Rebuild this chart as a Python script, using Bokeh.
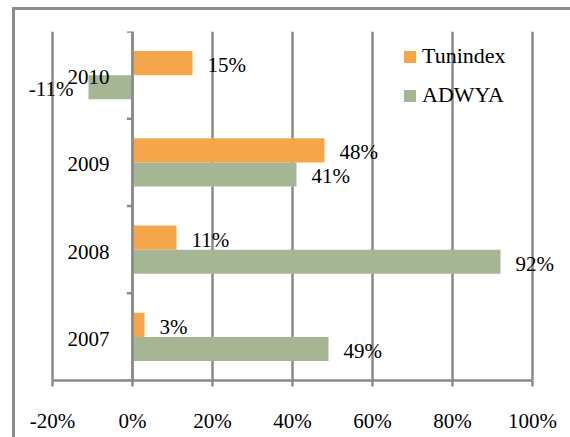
from bokeh.plotting import figure
from bokeh.models import (ColumnDataSource, FactorRange, Range1d, Span, SingleIntervalTicker,
                          PrintfTickFormatter, Legend, LegendItem, LabelSet)
from bokeh.transform import dodge
from bokeh.embed import file_html
from bokeh.resources import INLINE

years = ["2007", "2008", "2009", "2010"]
tunindex = [3, 11, 48, 15]
adwya = [49, 92, 41, -11]
x_ticks_interval = 20
axis_min, axis_max = -20, 100
view_min, view_max = -26, 106

FONT = "Liberation Serif"
ORANGE = "#F5A54A"
GREEN = "#A6B593"
GRAY = "#8A8A8A"

p = figure(width=570, height=437, output_backend="svg", toolbar_location=None,
           x_range=Range1d(view_min, view_max), y_range=FactorRange(factors=years, range_padding=0),
           min_border_left=28, min_border_right=14, min_border_top=31, min_border_bottom=57)
p.border_fill_color = None
p.styles = {"background": "linear-gradient(#8C8C8C,#8C8C8C) 12px 7px / 3px 100% no-repeat, "
                          "linear-gradient(#8C8C8C,#8C8C8C) 12px 7px / 100% 3px no-repeat, white"}
p.outline_line_color = None
p.background_fill_color = "white"

# grid
p.ygrid.visible = False
p.xgrid.grid_line_color = GRAY
p.xgrid.grid_line_width = 2.5
p.xgrid.ticker = SingleIntervalTicker(interval=x_ticks_interval)

# x axis
p.xaxis.ticker = SingleIntervalTicker(interval=x_ticks_interval)
p.xaxis.bounds = (axis_min, axis_max)
p.xaxis.formatter = PrintfTickFormatter(format="%d%%")
p.xaxis.axis_line_color = GRAY
p.xaxis.axis_line_width = 2.5
p.xaxis.major_tick_line_color = GRAY
p.xaxis.major_tick_line_width = 2.5
p.xaxis.major_tick_out = 6
p.xaxis.major_tick_in = 0
p.xaxis.minor_tick_line_color = None
p.xaxis.major_label_standoff = 22
p.xaxis.major_label_text_font = FONT
p.xaxis.major_label_text_font_size = "21px"
p.xaxis.major_label_text_color = "black"
p.yaxis.visible = False

src = ColumnDataSource(dict(
    year=years, tunindex=tunindex, adwya=adwya,
    t_lab=[f"{v}%" for v in tunindex], a_lab=[f"{v}%" for v in adwya],
    t_off=[15 if v >= 0 else -15 for v in tunindex], a_off=[15 if v >= 0 else -15 for v in adwya],
    t_al=["left" if v >= 0 else "right" for v in tunindex],
    a_al=["left" if v >= 0 else "right" for v in adwya],
    zero=[0] * len(years),
))

bh = 0.276
r_t = p.hbar(y=dodge("year", bh / 2, range=p.y_range), left=0, right="tunindex", height=bh,
             source=src, fill_color=ORANGE, line_color=None)
r_a = p.hbar(y=dodge("year", -bh / 2, range=p.y_range), left=0, right="adwya", height=bh,
             source=src, fill_color=GREEN, line_color=None)

# vertical axis at 0
p.add_layout(Span(location=0, dimension="height", line_color=GRAY, line_width=2.5))
bounds = list(range(len(years) + 1))
p.segment(x0=0, x1=-1.4, y0=bounds, y1=bounds, line_color=GRAY, line_width=2.5)

# category labels
p.add_layout(LabelSet(x="zero", y="year", text="year", source=src, x_offset=-23, y_offset=-2,
                      text_align="right", text_baseline="middle", text_font=FONT,
                      text_font_size="21px", text_color="black"))

# data labels
p.add_layout(LabelSet(x="tunindex", y=dodge("year", bh / 2, range=p.y_range), text="t_lab",
                      source=src, x_offset="t_off", y_offset=-2, text_align="t_al",
                      text_baseline="middle", text_font=FONT, text_font_size="21px",
                      text_color="black"))
p.add_layout(LabelSet(x="adwya", y=dodge("year", -bh / 2, range=p.y_range), text="a_lab",
                      source=src, x_offset="a_off", y_offset=-2, text_align="a_al",
                      text_baseline="middle", text_font=FONT, text_font_size="21px",
                      text_color="black"))

legend = Legend(items=[LegendItem(label="Tunindex", renderers=[r_t]),
                       LegendItem(label="ADWYA", renderers=[r_a])],
                location=(374, 272), orientation="vertical")
legend.border_line_color = None
legend.background_fill_alpha = 0
legend.padding = 0
legend.margin = 0
legend.glyph_width = 15
legend.glyph_height = 15
legend.label_standoff = 5
legend.spacing = 13
legend.label_text_font = FONT
legend.label_text_font_size = "22px"
legend.label_text_color = "black"
p.add_layout(legend, "center")

open("out.html", "w").write(file_html(p, INLINE))
